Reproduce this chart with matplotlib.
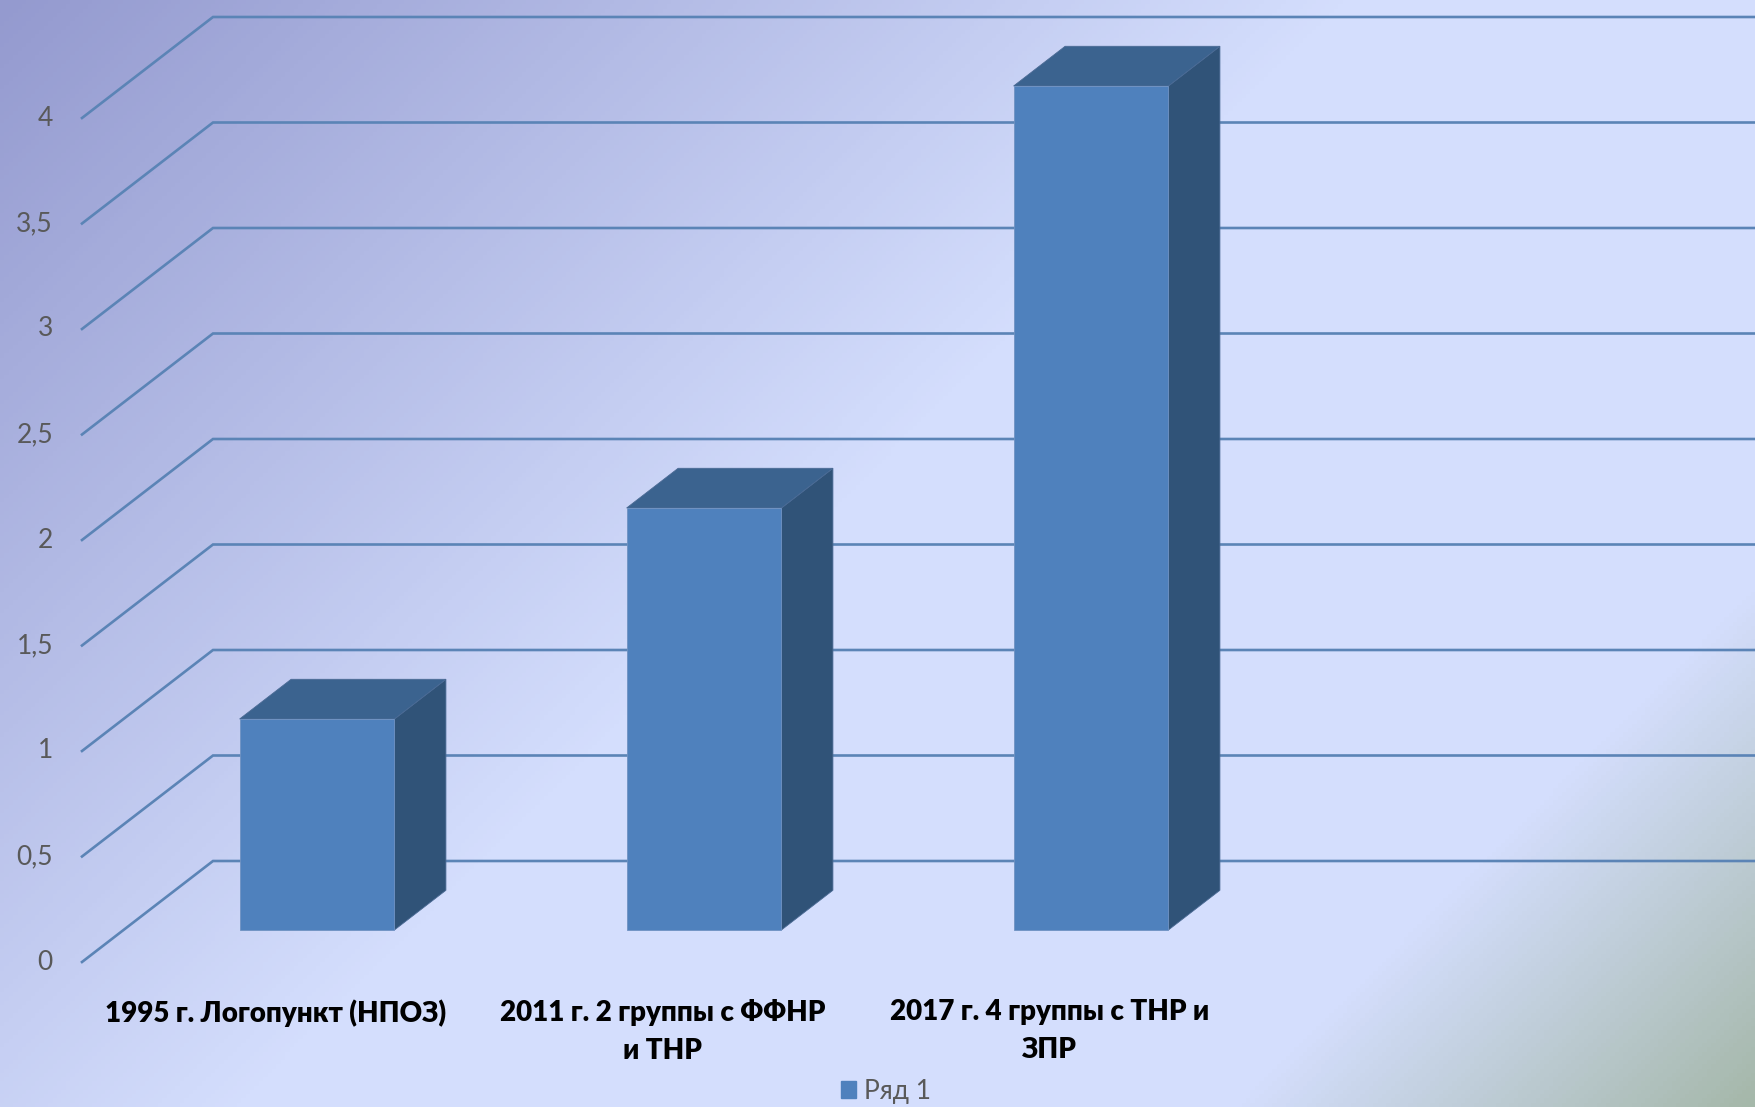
import numpy as np
import matplotlib
matplotlib.use("Agg")
import matplotlib.pyplot as plt
from matplotlib.colors import LinearSegmentedColormap
from matplotlib.patches import Polygon, Patch

# data
categories = ["1995 г. Логопункт (НПОЗ)",
              "2011 г. 2 группы с ФФНР\nи ТНР",
              "2017 г. 4 группы с ТНР и\nЗПР"]
values = [1, 2, 4]
series_name = "Ряд 1"
yticks = [0, 0.5, 1, 1.5, 2, 2.5, 3, 3.5, 4]
ytick_labels = ["0", "0,5", "1", "1,5", "2", "2,5", "3", "3,5", "4"]

plt.rcParams['font.family'] = ['Lato', 'DejaVu Sans']

W, H = 1755, 1107
fig = plt.figure(figsize=(W / 100, H / 100), dpi=100)

# background gradient (purple top-left -> light -> grey-green corner)
bg = fig.add_axes([0, 0, 1, 1])
bg.set_axis_off()
xx, yy = np.meshgrid(np.linspace(0, 1, 400), np.linspace(0, 1, 260))
t = (xx * W + yy * H) / (W + H)
cmap = LinearSegmentedColormap.from_list(
    'bg', [(0, '#949acf'), (0.47, '#d4defd'), (0.82, '#d4defd'), (1, '#a5b8aa')])
bg.imshow(t, cmap=cmap, extent=[0, 1, 0, 1], aspect='auto', origin='upper',
          vmin=0, vmax=1)

# pseudo 3d chart: x in category slots, y in values
ax = fig.add_axes([0, 0, 1, 1])
ax.set_axis_off()
ax.patch.set_visible(False)
x0, y0 = 213, 861          # back wall origin, px
cat_px, unit_px = 387, 211
ax.set_xlim(-x0 / cat_px, (W - x0) / cat_px)
ax.set_ylim((y0 - H) / unit_px, y0 / unit_px)
du, dv = -131 / cat_px, -101 / unit_px   # front wall offset

n = len(categories) + 1
for v, lab in zip(yticks, ytick_labels):
    ax.plot([du, 0, n], [v + dv, v, v], color='#5b84b6', lw=1.9,
            solid_joinstyle='miter', zorder=1)
    ax.text(du - 0.075, v + dv, lab, ha='right', va='center',
            fontsize=19, color='#595959')

f1, f0 = 0.683, 0.29
hw = 0.2
for i, h in enumerate(values):
    c = i + 0.5
    fl, fr, fb = c - hw + f1 * du, c + hw + f1 * du, f1 * dv
    bl, br, bb = c - hw + f0 * du, c + hw + f0 * du, f0 * dv
    front = [(fl, fb), (fr, fb), (fr, fb + h), (fl, fb + h)]
    top = [(fl, fb + h), (fr, fb + h), (br, bb + h), (bl, bb + h)]
    side = [(fr, fb), (br, bb), (br, bb + h), (fr, fb + h)]
    ax.add_patch(Polygon(side, closed=True, fc='#305378', ec='#4a6a94', lw=0.6, zorder=3))
    ax.add_patch(Polygon(top, closed=True, fc='#3b638f', ec='#4a6a94', lw=0.6, zorder=3))
    ax.add_patch(Polygon(front, closed=True, fc='#4f81bd', ec='#6f92c2', lw=0.6, zorder=4))

label_v = -0.655
for i, lab in enumerate(categories):
    ax.text(i + 0.5 + du, label_v, lab, ha='center', va='top', fontsize=20,
            fontweight='heavy', color='black', linespacing=1.55)

fig.legend(handles=[Patch(color='#4f81bd', label=series_name)], loc='center',
           bbox_to_anchor=(886 / W, 1 - 1091 / H), frameon=False, fontsize=19,
           labelcolor='#595959', handlelength=0.6, handleheight=0.6,
           handletextpad=0.3)

fig.savefig('out.png', dpi=100)
